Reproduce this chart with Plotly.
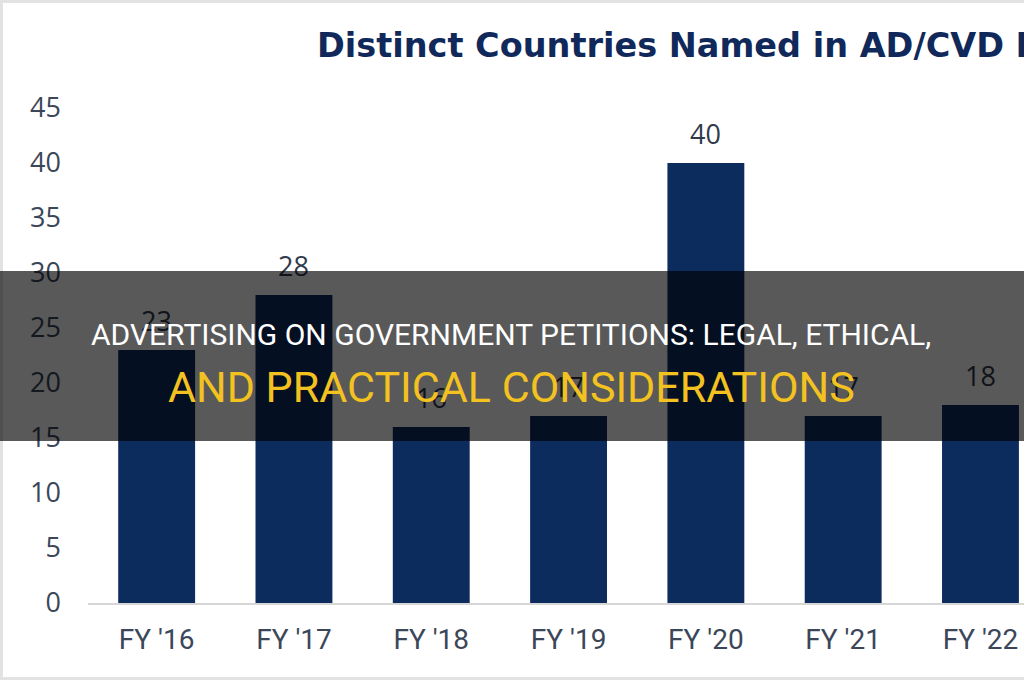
import plotly.graph_objects as go

categories = ["FY '16", "FY '17", "FY '18", "FY '19", "FY '20", "FY '21", "FY '22"]
values = [23, 28, 16, 17, 40, 17, 18]
y_ticks = [0, 5, 10, 15, 20, 25, 30, 35, 40, 45]
chart_title = "Distinct Countries Named in AD/CVD Petitions"
headline_1 = "ADVERTISING ON GOVERNMENT PETITIONS: LEGAL, ETHICAL,"
headline_2 = "AND PRACTICAL CONSIDERATIONS"

W, H = 1024, 680
ML, MR, MT, MB = 88, 0, 97, 77
PW, PH = W - ML - MR, H - MT - MB


def px_x(px):
    return (px - ML) / PW


def px_y(py):
    return (H - MB - py) / PH


BAR = "#0c2c5e"
TXT = "#3b4759"

fig = go.Figure()
fig.add_trace(go.Bar(x=categories, y=values, marker=dict(color=BAR, line=dict(width=0)),
                     hoverinfo="skip"))

annotations = []
for c, v in zip(categories, values):
    annotations.append(dict(x=c, y=v, xref="x", yref="y", text=str(v), showarrow=False,
                            yshift=30, yanchor="middle",
                            font=dict(family="Open Sans", size=27, color="#2f3a4b")))

# title (cropped on the right in the reference)
annotations.append(dict(x=px_x(315), y=px_y(46), xref="paper", yref="paper", text=chart_title,
                        showarrow=False, xanchor="left", yanchor="middle",
                        font=dict(family="DejaVu Sans", size=33.5, color="#10295a", weight="bold")))

# dark overlay band
annotations.append(dict(x=px_x(512), y=px_y(356), xref="paper", yref="paper", text="&nbsp;",
                        showarrow=False, xanchor="center", yanchor="middle",
                        width=1060, height=170, borderpad=0, borderwidth=0,
                        bgcolor="rgba(0,0,0,0.65)"))
annotations.append(dict(x=px_x(511), y=px_y(334), xref="paper", yref="paper", text=headline_1,
                        showarrow=False, xanchor="center", yanchor="middle",
                        font=dict(family="Roboto", size=30, color="#ffffff")))
annotations.append(dict(x=px_x(511), y=px_y(387), xref="paper", yref="paper", text=headline_2,
                        showarrow=False, xanchor="center", yanchor="middle",
                        font=dict(family="Roboto", size=43, color="#f3c220")))

shapes = [dict(type="rect", xref="paper", yref="paper",
               x0=px_x(0), x1=px_x(1040), y0=px_y(680), y1=px_y(0),
               line=dict(color="#e2e2e2", width=6), layer="below")]

fig.update_layout(
    width=W, height=H,
    margin=dict(l=ML, r=MR, t=MT, b=MB, pad=0),
    paper_bgcolor="white", plot_bgcolor="white",
    showlegend=False, bargap=0.44,
    font=dict(family="Roboto"),
    annotations=annotations, shapes=shapes,
    xaxis=dict(range=[-0.5, 6.317], showgrid=False, zeroline=False, showline=True,
               linecolor="#d6d6d6", linewidth=2, ticks="", ticklabelstandoff=10,
               tickfont=dict(family="Roboto", size=28, color=TXT), fixedrange=True),
    yaxis=dict(range=[0, 46], tickvals=y_ticks, showgrid=False, zeroline=False, showline=False,
               ticks="", ticklabelstandoff=26,
               tickfont=dict(family="Open Sans", size=27, color=TXT), fixedrange=True),
)

fig.write_html("out.html", config={"displayModeBar": False})
